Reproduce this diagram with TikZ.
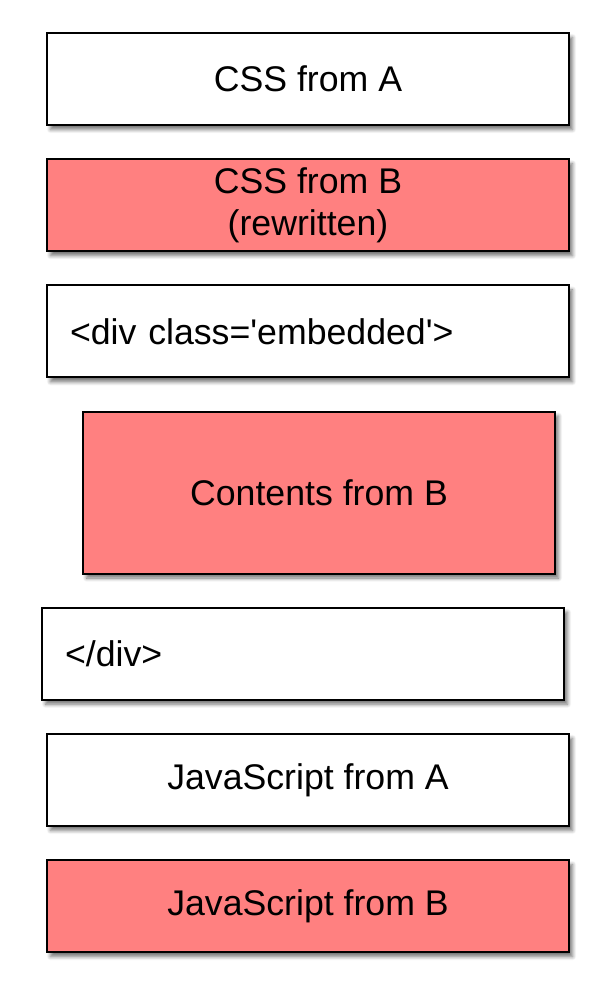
\documentclass[tikz,border=0pt]{standalone}
\usepackage{fontspec}
\setmainfont{Liberation Sans}
\usetikzlibrary{positioning,shadows.blur}
\definecolor{fromb}{RGB}{255,128,128}

\begin{document}
\begin{tikzpicture}[node distance=0.645cm, every node/.style={draw, rectangle, fill=white, line width=1.1pt, minimum width=10.44cm, minimum height=1.84cm, align=center, font=\fontsize{20.3}{24}\selectfont, blur shadow={shadow xshift=0.07cm, shadow yshift=-0.09cm, shadow blur steps=6, shadow opacity=55}}, tagbox/.style={text width=9.52cm, align=left, inner xsep=0.46cm}]
\useasboundingbox (0,0) rectangle (12.16,-20);
\node (cssA) at (6.16,-1.58) {CSS from A};
\node (cssB) [below=of cssA, fill=fromb] {CSS from B\\(rewritten)};
\node (divopen) [below=of cssB, tagbox] {<div class=\textquotesingle embedded\textquotesingle>};
\node (contentsB) [below=of divopen, xshift=0.22cm, fill=fromb, minimum width=9.44cm, minimum height=3.24cm] {Contents from B};
\node (divclose) [below=of contentsB, xshift=-0.32cm, tagbox] {</div>};
\node (jsA) [below=of divclose, xshift=0.1cm] {JavaScript from A};
\node (jsB) [below=of jsA, fill=fromb] {JavaScript from B};
\end{tikzpicture}
\end{document}
